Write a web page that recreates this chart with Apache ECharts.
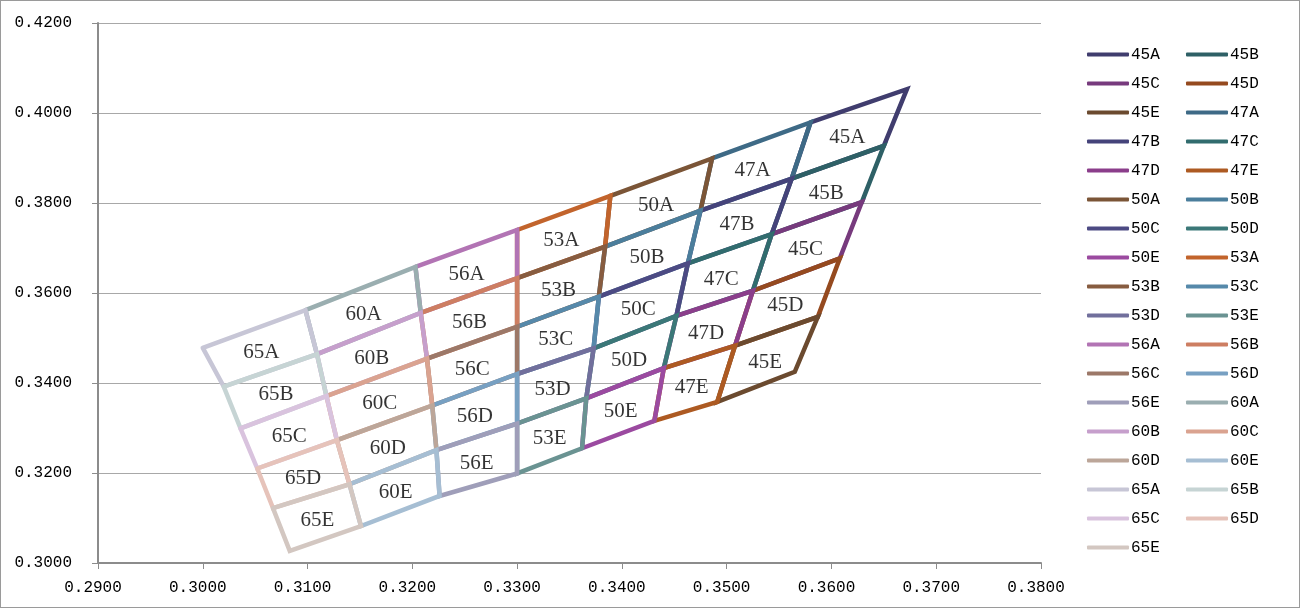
<!DOCTYPE html>
<html>
<head>
<meta charset="utf-8">
<script src="https://cdn.jsdelivr.net/npm/echarts@6/dist/echarts.min.js"></script>
<style>
  html, body { margin: 0; padding: 0; background: #fff; }
  #chart { width: 1300px; height: 608px; box-sizing: border-box; border: 1px solid #9a9a9a; }
</style>
</head>
<body>
<div id="chart"></div>
<script>
// CCT columns (left to right in the picture is 65 ... 45) and bins (top to bottom)
const cctColumns = ['45', '47', '50', '53', '56', '60', '65'];
const bins = ['A', 'B', 'C', 'D', 'E'];

// Boundary vertex lists (x, y), from the top of bin A down to the bottom of bin E
const edge65Left  = [[0.3000, 0.3478], [0.3020, 0.3392], [0.3036, 0.3299], [0.3052, 0.3210], [0.3067, 0.3122], [0.3083, 0.3027]];
const edge65_60   = [[0.3098, 0.3562], [0.3109, 0.3464], [0.3118, 0.3371], [0.3128, 0.3273], [0.3140, 0.3175], [0.3151, 0.3082]];
const edge60_56   = [[0.3203, 0.3658], [0.3208, 0.3556], [0.3214, 0.3454], [0.3219, 0.3350], [0.3223, 0.3251], [0.3226, 0.3149]];
const edge56_53   = [[0.3300, 0.3740], [0.3300, 0.3633], [0.3300, 0.3525], [0.3300, 0.3420], [0.3300, 0.3310], [0.3300, 0.3199]];
const edge53_50   = [[0.3389, 0.3816], [0.3384, 0.3703], [0.3378, 0.3592], [0.3373, 0.3477], [0.3366, 0.3366], [0.3362, 0.3255]];
const edge50_47   = [[0.3486, 0.3899], [0.3475, 0.3783], [0.3463, 0.3666], [0.3452, 0.3549], [0.3440, 0.3433], [0.3431, 0.3316]];
const edge47_45   = [[0.3580, 0.3979], [0.3562, 0.3854], [0.3543, 0.3731], [0.3525, 0.3605], [0.3508, 0.3483], [0.3491, 0.3358]];
const edge45Right = [[0.3672, 0.4053], [0.3650, 0.3927], [0.3629, 0.3802], [0.3608, 0.3677], [0.3587, 0.3547], [0.3565, 0.3425]];

// left and right edges for each CCT column, in the order of cctColumns
const columnLeftEdges  = [edge47_45, edge50_47, edge53_50, edge56_53, edge60_56, edge65_60, edge65Left];
const columnRightEdges = [edge45Right, edge47_45, edge50_47, edge53_50, edge56_53, edge60_56, edge65_60];

const seriesColors = [
  '#403d6e', '#2e6066', '#773a7d', '#954a1f', '#6b4a2f',
  '#3e6a86', '#45437a', '#316c6e', '#8b3e8b', '#ad5a22',
  '#7b5537', '#4b7e9c', '#4c4a83', '#3b7878', '#9b4aa0',
  '#c2642c', '#875c40', '#5689aa', '#716f9c', '#6a9392',
  '#b274b4', '#cd7e62', '#9c7868', '#77a0c2', '#9f9eb9',
  '#9aaeb0', '#c69fcc', '#daa390', '#bca699', '#a6bed3',
  '#c7c6d6', '#c6d4d4', '#d9c3de', '#e6c3ba', '#d3c7c1'
];

const FONT = 'Liberation Serif';
const AXIS_FONT = 'Liberation Mono';
const series = [];
const names = [];
const labelPoints = [];
cctColumns.forEach((cct, ci) => {
  const L = columnLeftEdges[ci], R = columnRightEdges[ci];
  bins.forEach((b, bi) => {
    const name = cct + b;
    const quad = [L[bi], R[bi], R[bi + 1], L[bi + 1], L[bi]];
    const col = seriesColors[names.length];
    names.push(name);
    series.push({
      name: name,
      type: 'line',
      data: quad,
      symbol: 'none',
      showSymbol: false,
      animation: false,
      color: col,
      lineStyle: { width: 4.5, color: col, join: 'miter', cap: 'round' },
      emphasis: { disabled: true }
    });
    const pts = quad.slice(0, 4);
    const cx = pts.reduce((s, p) => s + p[0], 0) / 4;
    const cy = pts.reduce((s, p) => s + p[1], 0) / 4;
    labelPoints.push([cx, cy, name]);
  });
});

series.push({
  type: 'scatter',
  data: labelPoints,
  symbolSize: 1,
  itemStyle: { color: 'rgba(0,0,0,0)' },
  animation: false,
  silent: true,
  z: 5,
  label: {
    show: true, position: 'inside', offset: [-1, 3],
    formatter: p => p.data[2],
    fontFamily: FONT, fontSize: 21, color: '#000'
  }
});

const leftNames = names.filter((n, i) => i % 2 === 0);
const rightNames = names.filter((n, i) => i % 2 === 1);
const legendCommon = {
  orient: 'vertical', top: 45, padding: 0,
  itemWidth: 42, itemHeight: 4, itemGap: 12, icon: 'roundRect',
  textStyle: { fontFamily: AXIS_FONT, fontSize: 16, lineHeight: 17, color: '#000', padding: [0, 0, 0, -3] },
  selectedMode: false
};

const chart = echarts.init(document.getElementById('chart'), null, { renderer: 'canvas' });
chart.setOption({
  backgroundColor: '#fff',
  animation: false,
  grid: { left: 97, top: 22, right: 258, bottom: 44, containLabel: false },
  legend: [
    Object.assign({}, legendCommon, { left: 1086, data: leftNames }),
    Object.assign({}, legendCommon, { left: 1185, data: rightNames })
  ],
  xAxis: {
    type: 'value', min: 0.29, max: 0.38, interval: 0.01,
    axisLine: { show: true, lineStyle: { color: '#8c8c8c', width: 2 } },
    axisTick: { show: true, length: 6, lineStyle: { color: '#8c8c8c', width: 1 } },
    splitLine: { show: false },
    axisLabel: { formatter: v => v.toFixed(4), fontFamily: AXIS_FONT, fontSize: 16, color: '#000', margin: 17, padding: [0, 10, 0, 0] }
  },
  yAxis: {
    type: 'value', min: 0.30, max: 0.42, interval: 0.02,
    axisLine: { show: true, lineStyle: { color: '#8c8c8c', width: 2 } },
    axisTick: { show: true, length: 6, lineStyle: { color: '#8c8c8c', width: 1 } },
    splitLine: { show: true, lineStyle: { color: '#a8a8a8', width: 1.2 } },
    axisLabel: { formatter: v => v.toFixed(4), fontFamily: AXIS_FONT, fontSize: 16, color: '#000', margin: 26 }
  },
  series: series
});
</script>
</body>
</html>
